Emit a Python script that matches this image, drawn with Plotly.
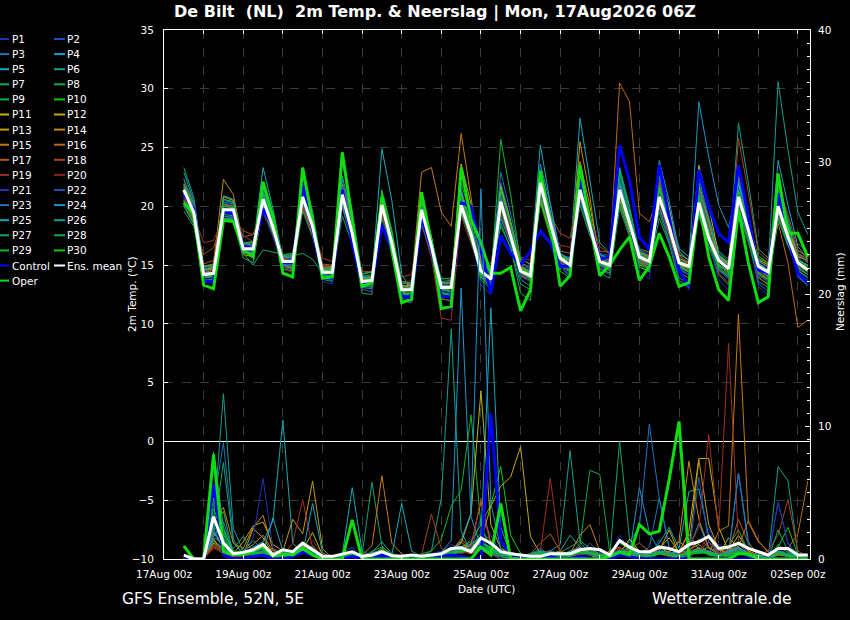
import pandas as pd
import plotly.graph_objects as go

# 6-hourly steps of the 06Z run, first step 17Aug 12z
times = pd.date_range("2026-08-17 12:00", periods=64, freq="6h")

# ---- 2m temperature (deg C) ----
t_mean = [21.4, 19.5, 14.2, 14.3, 19.7, 19.7, 16.4, 16.4, 20.6, 18.2, 15.3, 15.3, 20.8, 18.3, 14.4, 14.4,
          21.0, 17.7, 13.6, 13.7, 20.1, 16.9, 12.9, 12.9, 19.7, 16.6, 13.1, 13.1, 20.1, 17.6, 14.5, 13.8,
          20.4, 17.5, 14.5, 14.1, 22.0, 18.6, 15.6, 15.0, 21.4, 18.3, 15.3, 15.0, 21.4, 18.6, 15.7, 15.3,
          20.8, 18.3, 15.2, 14.9, 20.3, 17.3, 15.4, 14.7, 20.8, 18.0, 14.9, 14.4, 20.0, 17.4, 15.2, 14.6]
t_ctrl = [21.0, 19.8, 13.6, 13.6, 19.5, 19.4, 16.6, 16.4, 19.8, 18.3, 15.2, 15.2, 21.8, 18.1, 13.9, 13.9,
          21.4, 16.9, 13.5, 13.5, 18.4, 16.3, 12.3, 12.3, 19.1, 16.3, 12.3, 12.3, 20.3, 20.0, 16.3, 12.6,
          17.5, 16.0, 15.0, 16.2, 17.9, 16.9, 14.9, 14.9, 22.3, 18.6, 15.5, 15.7, 25.2, 22.2, 17.4, 16.3,
          23.5, 19.1, 14.6, 13.2, 23.1, 20.0, 17.7, 16.9, 23.5, 19.1, 14.6, 14.3, 21.1, 17.4, 14.3, 13.5]
t_oper = [20.3, 19.4, 13.3, 13.0, 18.8, 18.7, 16.3, 15.7, 22.1, 19.1, 14.3, 14.0, 23.3, 18.8, 13.9, 14.0,
          24.6, 19.1, 13.2, 13.5, 20.8, 16.3, 11.8, 12.1, 21.2, 16.9, 11.3, 11.5, 23.3, 18.9, 16.9, 14.3,
          14.3, 14.8, 11.1, 12.9, 23.0, 18.6, 13.2, 14.1, 23.5, 18.6, 14.1, 15.0, 16.3, 17.4, 13.7, 14.9,
          17.7, 15.7, 13.2, 13.5, 20.3, 15.7, 12.9, 12.0, 19.7, 15.2, 11.8, 12.3, 22.8, 17.7, 17.7, 15.7]

t_p01 = [21.0, 19.2, 13.9, 14.0, 19.9, 19.8, 16.8, 16.5, 20.2, 18.0, 15.1, 15.0, 21.3, 18.5, 14.2, 14.0,
         20.6, 17.4, 13.4, 13.8, 19.6, 16.5, 12.5, 12.4, 20.1, 16.9, 12.8, 12.6, 19.5, 17.0, 13.9, 13.2,
         21.2, 18.0, 14.0, 13.6, 21.5, 18.2, 15.2, 14.6, 20.8, 17.9, 14.8, 14.3, 22.6, 19.4, 15.9, 15.0,
         21.7, 18.7, 14.6, 14.1, 19.6, 16.8, 14.5, 13.9, 21.5, 18.3, 14.2, 13.8, 20.4, 17.1, 14.3, 13.6]
t_p02 = [20.6, 18.8, 14.5, 14.6, 20.3, 20.1, 16.1, 16.0, 21.4, 18.9, 14.8, 14.6, 20.2, 17.9, 14.9, 14.8,
         21.8, 18.2, 13.9, 13.5, 20.7, 17.3, 12.6, 12.2, 18.9, 16.2, 13.6, 13.4, 21.0, 18.4, 14.9, 14.3,
         19.6, 17.1, 14.9, 14.7, 22.8, 19.0, 15.0, 14.2, 20.5, 17.6, 16.0, 15.8, 20.9, 18.1, 15.1, 14.7,
         22.0, 19.2, 16.0, 15.4, 21.1, 18.0, 14.6, 13.8, 19.8, 17.2, 13.4, 12.8, 21.2, 18.5, 15.8, 15.3]
t_p03 = [22.0, 20.2, 14.0, 13.9, 19.2, 19.0, 16.0, 16.2, 21.0, 18.6, 15.6, 15.7, 20.3, 18.0, 13.9, 13.7,
         22.2, 18.6, 14.1, 14.0, 19.3, 16.2, 12.0, 11.8, 20.4, 17.2, 13.5, 13.2, 20.8, 17.9, 15.0, 14.6,
         22.0, 18.8, 15.3, 14.6, 21.2, 18.0, 14.8, 14.1, 22.9, 19.3, 15.6, 15.2, 20.3, 17.8, 16.2, 15.6,
         19.8, 17.2, 13.9, 13.5, 22.4, 19.1, 16.2, 15.5, 20.2, 17.5, 15.3, 14.9, 19.3, 16.7, 14.6, 13.9]
t_p04 = [21.8, 19.9, 14.6, 14.8, 20.6, 20.4, 16.6, 16.3, 19.9, 17.6, 15.0, 15.2, 21.6, 18.9, 14.6, 14.5,
         20.2, 17.1, 13.1, 13.0, 21.0, 17.5, 13.4, 13.5, 19.5, 16.4, 12.6, 12.4, 21.5, 18.0, 14.8, 13.5,
         19.0, 16.8, 14.2, 13.8, 23.1, 19.6, 16.0, 15.5, 21.0, 18.2, 15.0, 14.6, 21.8, 18.8, 15.4, 15.0,
         20.5, 18.0, 15.6, 15.2, 20.9, 17.9, 15.8, 15.0, 22.3, 19.3, 15.2, 14.6, 19.6, 17.0, 14.9, 14.2]
t_p05 = [21.2, 19.6, 14.3, 14.4, 19.5, 19.3, 16.3, 16.6, 23.3, 19.8, 15.5, 15.2, 20.6, 18.2, 14.7, 14.6,
         21.2, 17.9, 13.8, 13.9, 24.9, 20.5, 14.2, 12.9, 19.9, 16.9, 13.3, 13.0, 19.4, 17.3, 14.0, 13.1,
         20.9, 18.3, 15.2, 14.8, 25.2, 20.3, 15.9, 15.6, 27.5, 22.0, 16.9, 16.0, 21.1, 18.2, 15.8, 15.2,
         22.4, 19.8, 16.4, 15.7, 21.6, 18.6, 15.1, 14.5, 20.1, 17.5, 14.6, 14.1, 23.9, 20.1, 16.6, 15.5]
t_p06 = [23.3, 20.8, 14.9, 15.0, 18.8, 18.9, 16.9, 17.0, 19.5, 17.6, 15.8, 15.9, 21.0, 18.7, 15.0, 14.9,
         20.3, 17.2, 13.2, 13.4, 19.8, 16.7, 13.2, 13.3, 18.9, 16.0, 13.8, 13.9, 20.6, 17.9, 15.2, 14.9,
         19.3, 17.0, 13.8, 13.2, 21.4, 18.4, 15.8, 15.3, 20.2, 17.8, 15.9, 15.5, 22.3, 19.0, 15.0, 14.4,
         21.1, 18.6, 15.9, 15.5, 19.5, 16.9, 15.5, 15.1, 27.1, 22.0, 16.4, 15.6, 21.4, 18.6, 15.6, 14.9]
t_p07 = [20.2, 18.6, 14.0, 14.2, 19.0, 18.8, 15.6, 15.2, 20.0, 17.9, 14.4, 14.1, 22.5, 19.3, 13.8, 13.6,
         21.6, 18.1, 14.3, 14.4, 19.0, 16.0, 12.8, 12.6, 20.8, 17.4, 12.1, 12.0, 19.9, 17.5, 14.6, 14.0,
         18.6, 16.4, 13.4, 12.9, 22.6, 19.0, 15.3, 14.7, 21.9, 18.7, 14.3, 13.9, 19.9, 17.4, 15.8, 15.6,
         20.3, 17.8, 14.8, 14.4, 19.2, 16.6, 14.2, 13.3, 20.5, 17.8, 13.6, 13.1, 18.9, 16.6, 15.1, 14.9]
t_p08 = [21.9, 19.8, 14.7, 14.6, 20.1, 20.0, 16.2, 15.9, 21.8, 18.9, 15.8, 15.6, 19.8, 17.6, 14.2, 14.3,
         20.0, 17.0, 12.6, 12.5, 20.9, 17.5, 12.4, 12.7, 19.3, 16.3, 13.6, 13.7, 20.4, 17.8, 14.2, 13.9,
         20.0, 17.4, 14.9, 14.5, 21.0, 18.1, 15.5, 15.0, 22.5, 19.0, 15.1, 14.6, 21.2, 18.4, 16.4, 16.1,
         19.5, 17.0, 14.7, 14.2, 22.0, 18.7, 16.1, 15.3, 20.8, 18.1, 15.0, 14.4, 20.6, 17.8, 16.2, 15.8]
t_p09 = [20.8, 19.0, 13.6, 13.6, 19.8, 19.4, 16.4, 16.6, 20.9, 18.4, 15.2, 15.1, 20.0, 17.8, 14.0, 14.2,
         21.4, 18.0, 13.5, 13.2, 20.4, 17.1, 13.0, 13.1, 18.5, 15.8, 12.4, 12.2, 22.0, 19.1, 15.4, 14.1,
         20.2, 17.3, 14.6, 14.3, 21.8, 18.7, 15.9, 15.4, 20.1, 17.5, 15.6, 15.4, 23.1, 19.7, 15.6, 14.9,
         21.3, 18.5, 15.5, 15.0, 20.0, 17.4, 15.6, 15.0, 19.6, 16.9, 14.0, 13.3, 21.5, 18.9, 15.3, 14.6]
t_p10 = [21.6, 19.7, 14.1, 14.2, 19.4, 19.6, 16.7, 16.8, 20.4, 18.1, 15.9, 16.0, 21.1, 18.6, 14.5, 14.2,
         20.7, 17.5, 14.0, 14.2, 20.6, 17.3, 13.3, 13.0, 19.2, 16.5, 13.0, 12.8, 20.9, 18.2, 14.3, 13.2,
         21.5, 18.6, 14.3, 13.9, 20.7, 17.8, 14.9, 14.5, 21.6, 18.6, 15.8, 15.7, 20.6, 18.0, 14.8, 14.5,
         22.6, 19.7, 15.9, 15.5, 20.7, 17.6, 15.0, 14.2, 21.1, 18.3, 15.8, 15.2, 19.8, 17.1, 14.2, 13.7]
t_p11 = [22.3, 20.3, 14.6, 14.8, 19.6, 19.4, 16.1, 16.0, 20.7, 18.3, 15.4, 15.3, 20.4, 18.0, 14.3, 14.4,
         21.5, 18.3, 13.7, 13.8, 20.2, 17.0, 13.1, 13.4, 19.9, 16.8, 13.4, 13.5, 23.6, 20.2, 15.5, 14.4,
         21.7, 18.7, 14.8, 14.4, 20.5, 17.8, 15.7, 15.4, 21.2, 18.2, 15.2, 14.8, 21.7, 18.9, 16.0, 15.7,
         20.1, 17.6, 15.0, 14.7, 23.5, 20.0, 15.9, 15.1, 20.4, 17.9, 15.5, 15.0, 21.0, 18.3, 15.7, 15.4]
t_p12 = [21.3, 19.4, 14.4, 14.5, 20.0, 19.9, 16.5, 16.3, 21.1, 18.6, 14.9, 14.7, 20.7, 18.3, 14.8, 14.7,
         20.4, 17.4, 13.6, 13.7, 20.3, 17.2, 12.9, 12.8, 20.6, 17.4, 13.0, 13.0, 19.7, 17.4, 14.1, 13.5,
         20.7, 17.9, 15.5, 15.1, 22.3, 19.2, 15.8, 15.1, 21.7, 18.5, 15.4, 15.0, 20.5, 17.9, 15.5, 15.2,
         23.2, 20.0, 15.3, 14.6, 19.8, 16.9, 14.9, 14.5, 20.7, 18.0, 15.1, 14.6, 20.2, 17.6, 15.4, 15.0]
t_p13 = [20.5, 18.9, 14.2, 14.4, 20.8, 20.5, 15.9, 15.7, 19.7, 17.7, 15.1, 15.2, 21.7, 18.9, 14.1, 13.9,
         21.0, 17.8, 13.8, 14.0, 19.5, 16.4, 12.7, 12.5, 19.6, 16.5, 13.2, 13.3, 20.2, 17.8, 15.1, 14.5,
         19.8, 17.2, 14.4, 14.0, 21.7, 18.6, 15.4, 14.9, 23.8, 20.0, 15.7, 15.1, 22.0, 19.1, 15.3, 14.8,
         20.9, 18.4, 15.1, 14.7, 21.4, 18.5, 15.9, 15.0, 22.7, 19.4, 14.8, 14.2, 20.7, 18.0, 15.0, 14.4]
t_p14 = [21.0, 19.3, 14.9, 15.1, 22.3, 21.0, 16.8, 16.9, 20.3, 17.9, 15.6, 15.7, 20.1, 17.8, 14.6, 14.6,
         20.9, 17.7, 13.9, 14.0, 21.2, 17.8, 13.3, 13.1, 18.8, 15.9, 12.9, 13.0, 21.2, 18.4, 14.7, 14.0,
         20.5, 17.6, 14.1, 13.7, 22.1, 18.8, 15.2, 14.8, 25.5, 20.8, 15.0, 14.5, 21.5, 18.6, 16.1, 15.8,
         20.0, 17.5, 14.9, 14.5, 20.6, 17.7, 15.6, 15.3, 21.8, 18.9, 14.4, 13.7, 20.9, 18.2, 16.0, 15.5]
t_p15 = [21.7, 19.8, 14.6, 14.6, 19.8, 19.6, 16.4, 16.2, 20.8, 18.4, 15.0, 14.8, 20.9, 18.4, 14.8, 14.9,
         21.3, 18.0, 13.5, 13.4, 20.4, 17.4, 13.0, 13.6, 22.9, 23.3, 19.5, 18.3, 26.2, 20.9, 15.3, 14.6,
         21.4, 18.6, 14.9, 14.4, 20.9, 18.0, 15.0, 14.6, 21.0, 18.3, 15.5, 15.1, 21.9, 19.0, 15.9, 15.5,
         21.6, 18.8, 15.6, 15.1, 20.4, 17.5, 14.9, 14.4, 20.0, 17.6, 15.4, 15.1, 19.5, 17.1, 14.7, 14.2]
t_p16 = [20.9, 19.1, 14.0, 14.1, 20.2, 20.0, 16.0, 16.1, 20.5, 18.3, 15.5, 15.4, 19.9, 17.7, 14.4, 14.5,
         21.9, 18.5, 13.9, 13.7, 20.0, 16.8, 12.8, 12.9, 20.3, 17.1, 13.5, 13.6, 20.6, 18.0, 14.4, 13.8,
         20.8, 17.9, 14.7, 14.2, 23.0, 19.5, 15.6, 15.0, 21.3, 18.4, 15.7, 15.4, 30.5, 28.9, 19.4, 18.7,
         21.0, 18.5, 14.4, 13.9, 21.8, 18.8, 15.5, 15.0, 20.6, 17.8, 14.6, 14.0, 18.6, 15.2, 9.7, 10.3]
t_p17 = [21.5, 19.6, 15.1, 15.4, 19.3, 19.5, 17.4, 17.6, 19.8, 17.5, 14.9, 14.8, 21.4, 18.7, 15.1, 15.0,
         20.5, 17.3, 14.2, 14.5, 20.8, 17.6, 13.6, 13.3, 19.0, 16.2, 12.4, 12.3, 19.8, 17.4, 14.0, 13.4,
         19.9, 17.4, 14.6, 14.1, 21.3, 18.4, 16.2, 16.0, 20.6, 17.9, 16.2, 16.1, 21.0, 18.5, 15.4, 14.9,
         22.1, 19.4, 15.8, 15.2, 19.9, 17.1, 15.2, 14.9, 21.2, 18.5, 13.9, 13.4, 20.5, 17.8, 15.9, 15.2]
t_p18 = [20.4, 18.7, 15.9, 16.5, 18.9, 19.0, 17.9, 17.6, 20.1, 17.9, 15.8, 15.6, 20.5, 18.1, 15.6, 15.3,
         19.9, 17.0, 14.5, 14.4, 19.4, 16.6, 14.0, 14.2, 19.7, 16.9, 12.2, 11.9, 20.0, 17.6, 14.5, 13.9,
         20.1, 17.8, 15.7, 15.4, 22.4, 19.3, 17.7, 17.3, 21.8, 19.0, 16.6, 15.9, 20.8, 18.2, 15.2, 14.8,
         20.4, 17.8, 14.9, 14.4, 21.4, 18.4, 14.3, 13.5, 25.8, 21.2, 16.1, 15.4, 21.8, 19.3, 16.3, 15.6]
t_p19 = [21.1, 19.2, 16.9, 17.1, 19.0, 18.6, 17.5, 17.0, 19.6, 17.5, 15.6, 15.5, 20.0, 17.5, 14.0, 13.8,
         20.2, 17.0, 13.0, 12.7, 19.5, 16.3, 12.2, 11.9, 18.6, 15.6, 10.5, 10.3, 19.2, 16.8, 14.6, 15.2,
         19.4, 17.0, 15.0, 14.9, 21.0, 18.1, 16.7, 16.5, 20.9, 18.2, 14.9, 14.5, 21.1, 18.3, 15.1, 14.6,
         20.6, 18.1, 16.0, 15.5, 20.1, 17.2, 15.0, 14.3, 20.9, 18.3, 14.5, 13.9, 20.1, 17.7, 16.8, 16.2]
t_p20 = [20.7, 18.8, 14.3, 14.5, 19.3, 19.3, 16.2, 16.4, 20.6, 18.2, 14.6, 14.4, 20.6, 18.2, 14.9, 15.0,
         21.1, 17.8, 13.7, 13.6, 19.7, 16.8, 13.5, 13.7, 20.0, 16.8, 13.4, 13.4, 20.3, 17.9, 14.9, 14.3,
         21.0, 18.2, 14.2, 13.7, 21.6, 18.4, 15.1, 14.4, 22.0, 18.9, 15.6, 15.3, 20.2, 17.6, 16.3, 16.0,
         21.2, 18.6, 15.4, 15.0, 20.3, 17.4, 15.3, 14.8, 20.1, 17.5, 15.5, 15.3, 20.3, 17.9, 15.0, 14.6]
t_p21 = [22.4, 20.4, 14.5, 14.2, 20.5, 20.3, 16.3, 16.1, 19.5, 17.4, 14.9, 15.0, 20.9, 18.4, 13.6, 13.4,
         20.1, 16.9, 12.9, 12.8, 20.5, 17.1, 12.4, 12.0, 19.4, 16.4, 11.6, 11.2, 20.7, 17.7, 13.3, 12.5,
         20.1, 17.2, 14.0, 13.6, 21.9, 18.5, 14.8, 14.0, 20.4, 17.8, 14.6, 14.2, 21.3, 18.3, 14.5, 13.8,
         20.2, 17.4, 14.0, 12.9, 19.9, 16.9, 13.8, 12.8, 21.6, 18.6, 13.2, 12.4, 20.4, 17.5, 13.9, 13.4]
t_p22 = [21.0, 19.3, 13.8, 13.8, 19.6, 19.5, 16.6, 16.7, 21.6, 18.8, 15.4, 15.2, 20.3, 17.9, 14.3, 14.2,
         21.7, 18.3, 13.3, 13.1, 20.9, 17.4, 12.6, 12.4, 20.0, 16.8, 12.3, 12.3, 19.9, 17.5, 14.1, 13.5,
         20.8, 17.8, 14.7, 14.3, 22.5, 18.9, 15.3, 14.6, 21.1, 18.2, 15.0, 14.6, 21.6, 18.7, 15.7, 15.2,
         21.0, 18.4, 14.7, 14.2, 20.7, 17.7, 15.3, 14.4, 21.0, 18.4, 14.1, 13.7, 20.7, 17.7, 14.5, 13.9]
t_p23 = [20.1, 18.5, 14.4, 14.3, 20.4, 20.2, 16.9, 16.7, 21.3, 18.8, 15.4, 15.5, 20.8, 18.3, 14.1, 14.0,
         20.8, 17.6, 13.5, 13.7, 20.0, 16.8, 13.6, 13.5, 20.9, 17.3, 12.9, 12.7, 20.4, 17.9, 14.6, 14.0,
         22.9, 19.4, 15.6, 15.0, 21.1, 18.1, 15.1, 14.7, 21.6, 18.6, 15.3, 14.9, 22.2, 19.2, 16.3, 15.8,
         22.8, 19.5, 15.3, 14.7, 21.2, 18.1, 14.6, 14.0, 20.3, 17.6, 15.0, 14.6, 21.9, 18.9, 16.0, 15.3]
t_p24 = [21.5, 19.6, 14.8, 14.9, 19.1, 19.1, 16.2, 16.0, 20.8, 18.4, 15.0, 14.9, 21.5, 18.9, 14.7, 14.6,
         20.1, 17.1, 13.7, 13.9, 20.3, 17.2, 13.0, 13.0, 19.2, 16.3, 13.3, 13.2, 21.3, 18.5, 15.0, 14.4,
         20.6, 17.7, 14.5, 14.1, 23.6, 20.2, 16.0, 15.4, 21.5, 18.5, 15.9, 15.6, 21.9, 19.0, 15.5, 15.0,
         23.9, 20.5, 16.2, 15.3, 28.9, 24.2, 20.1, 18.2, 22.0, 19.1, 15.4, 14.8, 20.6, 18.0, 14.1, 13.2]
t_p25 = [21.2, 19.5, 13.9, 14.1, 20.9, 20.6, 16.4, 16.2, 20.1, 17.8, 15.7, 15.6, 21.9, 19.2, 14.5, 14.4,
         22.6, 18.9, 14.0, 13.8, 19.9, 16.8, 13.0, 13.1, 20.6, 17.4, 13.5, 13.4, 19.9, 17.4, 14.3, 13.8,
         20.0, 17.4, 14.7, 14.4, 22.8, 19.4, 15.5, 14.9, 21.0, 18.1, 15.1, 14.7, 23.3, 20.0, 16.0, 15.2,
         21.4, 18.7, 15.3, 14.9, 20.6, 17.5, 15.7, 15.0, 21.9, 18.8, 14.7, 14.0, 19.9, 17.2, 15.4, 15.0]
t_p26 = [22.9, 20.5, 14.9, 14.9, 19.8, 19.7, 16.5, 16.3, 21.2, 18.7, 15.7, 15.8, 22.7, 19.6, 14.6, 14.3,
         23.8, 19.6, 14.1, 13.8, 20.2, 17.0, 13.1, 12.9, 19.8, 16.7, 13.0, 12.8, 20.0, 17.7, 14.6, 14.1,
         21.3, 18.4, 14.4, 13.8, 22.2, 18.9, 15.7, 15.2, 21.7, 18.8, 15.6, 15.2, 21.2, 18.5, 16.0, 15.7,
         20.7, 18.1, 15.0, 14.5, 21.8, 18.9, 15.9, 15.2, 20.5, 17.8, 15.0, 14.6, 30.6, 24.8, 19.5, 17.6]
t_p27 = [19.6, 18.3, 14.6, 14.9, 19.0, 18.9, 16.0, 15.0, 16.3, 16.1, 15.9, 15.8, 16.0, 15.5, 14.3, 14.0,
         19.2, 16.8, 14.2, 14.4, 20.5, 17.3, 13.2, 13.0, 18.7, 16.0, 12.7, 12.5, 20.1, 17.5, 14.9, 14.6,
         18.3, 16.5, 12.6, 12.0, 21.2, 18.2, 15.0, 14.4, 20.7, 17.9, 15.4, 15.1, 20.1, 17.6, 15.0, 14.8,
         19.0, 16.8, 13.7, 13.1, 20.4, 17.3, 14.7, 14.0, 19.9, 17.2, 14.8, 14.5, 20.8, 18.1, 14.8, 14.2]
t_p28 = [20.0, 18.5, 13.7, 13.8, 20.0, 19.9, 16.8, 17.0, 20.9, 18.5, 14.7, 14.5, 19.6, 17.4, 14.4, 14.5,
         20.4, 17.2, 13.3, 13.1, 21.4, 18.0, 13.6, 13.5, 19.6, 16.6, 13.9, 13.8, 20.5, 18.0, 13.7, 13.0,
         19.8, 17.3, 14.3, 13.9, 21.4, 18.3, 15.9, 15.4, 22.2, 19.0, 14.7, 14.3, 20.7, 18.1, 15.9, 15.6,
         20.6, 18.2, 15.4, 15.0, 19.4, 16.6, 14.9, 14.6, 21.4, 18.6, 14.3, 13.5, 19.1, 16.8, 14.5, 14.0]
t_p29 = [21.9, 20.0, 14.2, 14.0, 19.3, 19.2, 16.6, 16.5, 19.9, 17.7, 15.3, 15.4, 20.6, 18.1, 14.7, 14.8,
         21.2, 17.8, 13.8, 13.6, 20.6, 17.2, 12.5, 12.6, 19.4, 16.4, 12.9, 12.8, 19.6, 17.1, 14.2, 13.7,
         25.7, 21.0, 15.1, 14.0, 20.4, 17.6, 15.5, 15.1, 21.2, 18.2, 15.2, 14.9, 22.8, 19.5, 15.2, 14.6,
         21.8, 19.0, 15.3, 14.8, 20.0, 17.2, 15.0, 14.4, 20.7, 18.0, 15.6, 15.2, 19.7, 17.3, 15.3, 14.9]
t_p30 = [20.5, 18.9, 14.1, 14.3, 20.6, 20.3, 16.3, 16.4, 20.3, 18.1, 15.2, 15.0, 20.8, 18.4, 14.5, 14.6,
         20.8, 17.6, 13.6, 13.9, 21.3, 17.8, 12.7, 12.3, 20.7, 17.2, 12.6, 12.4, 20.8, 18.1, 14.0, 13.1,
         21.5, 18.6, 14.7, 14.3, 20.3, 17.4, 14.5, 13.9, 22.7, 19.3, 15.4, 15.0, 21.0, 18.3, 15.6, 15.4,
         21.5, 18.9, 14.9, 14.4, 20.9, 17.9, 14.8, 14.1, 21.3, 18.6, 14.4, 13.8, 20.9, 18.4, 15.1, 14.4]

# ---- precipitation (mm / 6h) ----
r_mean = [0.3, 0, 0, 3.2, 1.2, 0.4, 0.5, 0.7, 1.1, 0.3, 0.7, 0.55, 1.2, 0.7, 0.2, 0.2,
          0.4, 0.55, 0.2, 0.3, 0.55, 0.25, 0.2, 0.3, 0.2, 0.3, 0.4, 0.8, 0.85, 0.55, 1.6, 1.2,
          0.55, 0.4, 0.3, 0.2, 0.2, 0.4, 0.4, 0.4, 0.7, 0.8, 0.7, 0.3, 1.4, 0.9, 0.55, 0.55,
          0.9, 0.8, 0.55, 1.1, 1.3, 1.7, 0.8, 0.9, 1.2, 0.8, 0.55, 0.3, 0.8, 0.8, 0.3, 0.3]
r_ctrl = [0, 0, 0, 5.7, 0.3, 0, 0, 0.2, 0.3, 0, 0, 0.2, 0.5, 0.3, 0, 0,
          0, 0.2, 0, 0, 0.3, 0, 0, 0, 0, 0, 0.2, 0.3, 0.2, 0, 0, 11.0,
          1.4, 0.3, 0.2, 0, 0, 0.2, 0, 0, 0.2, 0, 0, 0, 0.3, 0.2, 0, 0,
          0, 0, 0, 0, 0, 0, 0, 0, 0, 0, 0, 0, 0, 0, 0, 0]
r_oper = [1.0, 0, 0, 7.9, 0.55, 0.3, 0.4, 0.6, 0.9, 0.2, 0.4, 0.3, 0.8, 0.3, 0, 0,
          0, 2.95, 0, 0, 0, 0, 0, 0, 0, 0, 0, 0, 0, 0, 0.9, 0.3,
          4.2, 0, 0, 0, 0, 0, 0, 0, 0, 0, 0, 0.2, 0.5, 0.3, 2.6, 1.9,
          2.1, 6.0, 10.4, 0, 0, 0, 0, 0, 0.4, 0.4, 0, 0, 0, 0, 0, 0]

r_p01 = [0, 0, 0, 2.1, 0.6, 0.2, 0.4, 0.9, 1.2, 0.3, 0.2, 0.5, 0.8, 0.3, 0, 0,
         0.2, 0.6, 0, 0, 0.3, 0, 0, 0.2, 0, 0.4, 0.6, 1.1, 0.8, 1.5, 2.2, 0.9,
         0.3, 0, 0, 0.2, 0, 0.4, 0.6, 0.3, 1.0, 0.5, 0.2, 0, 1.8, 0.6, 0.2, 0.4,
         0.8, 0.3, 0, 0.6, 1.4, 2.3, 0.5, 0.2, 1.2, 0.4, 0.2, 0, 0.9, 0.5, 0, 0.2]
r_p02 = [0, 0, 0, 3.4, 1.0, 0, 0.3, 0.5, 0.6, 0.2, 0.5, 0.3, 1.1, 0.4, 0, 0,
         0.4, 0.9, 0, 0, 0.6, 0.2, 0, 0, 0.3, 0.2, 0.4, 0.6, 1.0, 0.7, 3.1, 1.8,
         0.5, 0.2, 0, 0, 0.3, 0.6, 0.2, 0, 0.4, 1.2, 0.5, 0.2, 0.7, 0.3, 0, 0,
         1.5, 0.6, 0.2, 0.3, 0.8, 0.4, 1.1, 0.6, 0.4, 0.2, 0, 0, 4.3, 1.2, 0.3, 0]
r_p03 = [0, 0, 0, 4.1, 8.8, 1.5, 0.3, 0.2, 0.5, 0.2, 0, 0.6, 0.9, 0.3, 0, 0,
         0, 0.4, 0, 0.2, 0.5, 0, 0, 0, 0.2, 0.4, 0.3, 0.2, 0.6, 1.2, 1.6, 0.7,
         0.2, 0, 0, 0.4, 0.8, 0.3, 0, 0, 0.6, 0.9, 0.3, 0, 0.5, 1.3, 2.4, 10.2,
         4.6, 0.8, 0.3, 0.2, 0.6, 0.9, 0.4, 0.3, 0.7, 0.2, 0, 0, 0.5, 0.3, 0, 0]
r_p04 = [0, 0, 0, 1.6, 1.2, 0.5, 0.2, 0.6, 0.4, 0.8, 0.3, 0.2, 0.6, 0.2, 0, 0,
         0.3, 0.2, 0, 0, 0.4, 0, 0, 0, 0, 0.2, 0.5, 1.4, 20.5, 3.2, 0.9, 0.4,
         0, 0, 0.2, 0, 0.3, 0.5, 0.2, 0.3, 0.7, 0.4, 0, 0.2, 0.6, 0.4, 5.4, 2.0,
         0.6, 0.3, 0, 0.8, 2.7, 0.9, 0.3, 0.2, 6.5, 1.3, 0.2, 0, 0.4, 0.2, 0, 0]
r_p05 = [0, 0, 0, 8.1, 2.4, 0.4, 0.2, 0.9, 1.3, 2.9, 10.5, 1.2, 0.4, 0.6, 0.2, 0,
         0.3, 5.4, 0.6, 0.2, 0.4, 0.2, 0.3, 0, 0, 0.3, 0.2, 0.6, 0.9, 1.1, 1.7, 19.0,
         2.4, 0.3, 0, 0.2, 0.5, 0.4, 0.6, 1.8, 0.9, 0.3, 0.2, 0, 0.4, 0.8, 0.6, 0.3,
         1.2, 2.4, 0.8, 5.1, 5.3, 1.7, 0.4, 0.2, 0.5, 0.3, 0, 0, 0.6, 0.2, 0.4, 0]
r_p06 = [0, 0, 0, 2.7, 12.5, 2.3, 0.6, 0.3, 0.5, 0.2, 0.3, 0.4, 0.6, 1.0, 0.2, 0,
         0, 0.3, 0.2, 0.5, 1.3, 0.4, 0, 0, 0.2, 0.6, 4.6, 17.4, 2.1, 0.5, 0.8, 0.4,
         0.2, 0, 0, 0.3, 0.2, 0.6, 1.1, 8.2, 1.3, 0.4, 0, 0.2, 0.5, 0.3, 0.2, 0.6,
         0.8, 0.2, 0, 0.3, 0.9, 0.4, 0.2, 0.6, 1.1, 0.5, 0.3, 0, 7.0, 5.9, 0.4, 0.2]
r_p07 = [0, 0, 0, 1.9, 7.3, 1.2, 0.4, 0.6, 0.3, 0.8, 0.4, 0.2, 0.5, 0.3, 0, 0.2,
         0, 0.5, 0.3, 5.8, 1.0, 0.2, 0, 0, 0.3, 0.4, 0.2, 0.7, 0.5, 0.6, 1.2, 0.6,
         0.5, 0.2, 0, 0, 0.4, 0.3, 0.5, 0.9, 1.4, 0.8, 0.3, 0.2, 8.9, 1.5, 0.3, 0,
         0.4, 0.2, 0, 0.5, 0.7, 0.3, 0.2, 0.4, 0.8, 0.3, 0, 0.2, 0.5, 0.3, 0, 0]
r_p08 = [0, 0, 0, 2.4, 3.6, 0.3, 0.8, 0.2, 0.4, 0.3, 0.2, 0.6, 1.0, 0.4, 0.2, 0,
         0.2, 0.3, 0, 0.2, 0.6, 0.3, 0, 0, 0, 0.2, 0.5, 0.9, 0.4, 0.8, 2.0, 1.4,
         0.6, 0.3, 0.2, 0.4, 0.6, 0.5, 0.2, 0.4, 1.1, 6.7, 6.4, 0.5, 0.3, 0.4, 0.6, 0.2,
         0.5, 0.3, 0.2, 0.4, 0.6, 0.9, 0.3, 0.5, 0.7, 0.2, 0, 0, 0.4, 0.3, 0.2, 0]
r_p09 = [0, 0, 0, 3.0, 1.6, 0.4, 0.2, 0.5, 0.6, 0.3, 0.2, 0.4, 0.8, 0.5, 0, 0,
         0.3, 0.6, 0.2, 0.3, 0.5, 0.2, 0.2, 0, 0.4, 0.6, 1.5, 4.0, 5.2, 10.9, 2.5, 0.8,
         0.4, 0.2, 0, 0.2, 0.3, 0.6, 0.4, 0.3, 0.5, 0.3, 0.2, 0.6, 1.2, 0.7, 0.3, 0.2,
         0.6, 0.4, 0.2, 0.3, 0.5, 0.4, 0.3, 1.0, 2.2, 0.6, 0.2, 0, 1.1, 0.5, 0.2, 0]
r_p10 = [0, 0, 0, 4.6, 2.2, 0.6, 0.4, 0.3, 0.2, 0.5, 0.3, 0.2, 0.6, 0.4, 0, 0,
         0.2, 0.4, 0, 0.3, 0.8, 0.2, 0, 0, 0.2, 0.3, 0.4, 0.5, 0.9, 1.3, 2.6, 4.1,
         7.0, 1.8, 0.4, 0, 0.2, 0.3, 0.5, 0.3, 0.6, 0.4, 0.2, 0.3, 0.8, 0.5, 0.2, 0.6,
         1.0, 0.3, 0.2, 0.5, 0.4, 0.6, 0.3, 0.2, 0.5, 0.3, 0.2, 0, 0.9, 2.4, 0.3, 0.1]
r_p11 = [0, 0, 0, 1.2, 0.8, 0.3, 0.2, 0.6, 0.4, 0.3, 0.2, 0.5, 0.7, 2.0, 0.3, 0,
         0.2, 0.3, 0, 0, 0.4, 0.2, 0, 0, 0.3, 0.2, 0.3, 0.6, 1.2, 3.4, 12.7, 2.6,
         0.8, 0.5, 0.3, 0.2, 0.6, 0.4, 0.3, 0.2, 0.5, 0.3, 0, 0.2, 0.4, 1.5, 0.6, 0.3,
         0.8, 1.6, 0.5, 2.1, 7.6, 7.6, 2.4, 0.6, 1.8, 0.6, 0.3, 0, 0.4, 0.2, 0, 0]
r_p12 = [0, 0, 0, 2.0, 0.9, 0.4, 0.3, 2.3, 1.6, 0.4, 0.3, 0.2, 1.0, 0.6, 0.2, 0,
         0.3, 0.2, 0, 0.4, 0.7, 0.3, 0, 0, 0.2, 0.3, 0.2, 0.4, 0.6, 0.9, 1.4, 4.0,
         5.5, 6.2, 8.5, 1.7, 0.4, 0.2, 0.6, 0.3, 0.8, 0.4, 0.2, 0, 0.5, 0.9, 0.3, 0.4,
         0.6, 2.2, 0.4, 0.7, 1.1, 0.5, 0.3, 1.6, 0.9, 0.4, 0.2, 0.3, 0.6, 0.2, 0, 0]
r_p13 = [0, 0, 0, 1.5, 0.6, 0.4, 1.3, 2.5, 2.8, 1.1, 0.6, 3.0, 1.9, 5.9, 0.8, 0,
         0.2, 0.5, 0.2, 0, 0.3, 0.4, 0, 0, 0, 0.2, 0.3, 0.5, 0.8, 1.0, 4.4, 1.2,
         0.6, 0.3, 0, 0, 0.2, 0.5, 0.4, 0.2, 0.6, 0.3, 0.2, 0.5, 1.3, 0.8, 0.3, 0.2,
         0.4, 0.6, 1.3, 0.8, 7.5, 2.6, 0.8, 0.4, 0.6, 0.3, 0, 0.2, 0.5, 0.3, 0.2, 0]
r_p14 = [0, 0, 0, 2.8, 3.9, 1.2, 0.8, 2.4, 3.3, 0.7, 0.4, 0.3, 0.8, 0.4, 0.2, 0,
         0.3, 0.2, 0, 0.2, 0.5, 0.3, 0, 0, 0.2, 0.3, 0.2, 0.4, 1.3, 0.6, 1.1, 0.5,
         0.3, 0.2, 0, 0.2, 0.6, 0.3, 0.2, 0.4, 1.8, 2.6, 0.6, 0.3, 0.5, 0.4, 0.2, 0.6,
         0.9, 0.5, 1.4, 7.4, 3.0, 0.8, 0.6, 0.9, 0.4, 0.3, 0.2, 0, 0.3, 0.2, 0, 0]
r_p15 = [0, 0, 0, 1.4, 0.7, 0.3, 0.6, 1.1, 1.8, 0.6, 0.4, 0.3, 0.6, 0.9, 0.2, 0,
         0.2, 0.4, 0.3, 1.0, 6.3, 1.2, 0.4, 0, 0, 0.2, 0.4, 0.3, 0.6, 0.4, 0.8, 0.6,
         0.3, 0.2, 0, 0.3, 0.5, 0.6, 0.3, 0.2, 0.4, 0.3, 0.2, 0.6, 0.9, 0.4, 0.3, 0.5,
         1.0, 0.4, 0.6, 1.9, 0.7, 0.4, 2.1, 2.5, 18.5, 2.8, 1.3, 0.6, 0.5, 0.3, 0.2, 0]
r_p16 = [0, 0, 0, 1.1, 0.5, 0.2, 0.4, 0.8, 1.0, 0.4, 0.2, 0.3, 0.5, 0.6, 0.3, 0,
         0.2, 0.3, 0, 0.2, 0.4, 0.3, 0, 0, 0.2, 0.3, 0.4, 0.6, 1.5, 0.8, 0.7, 0.3,
         0.2, 0, 0, 0.2, 0.4, 0.3, 0.2, 0.6, 0.9, 0.5, 0.2, 0.3, 0.8, 0.6, 0.3, 0.2,
         0.5, 0.4, 0.3, 0.6, 0.8, 0.5, 0.4, 0.7, 0.9, 2.9, 1.4, 0.5, 0.3, 0.8, 1.9, 5.9]
r_p17 = [0, 0, 0, 0.9, 0.4, 0.2, 0.3, 0.6, 0.8, 0.3, 0.2, 0.4, 0.6, 0.3, 0, 0,
         0.2, 0.4, 0.2, 0.3, 0.5, 0.2, 0, 0, 0, 0.2, 0.3, 0.5, 0.8, 0.6, 1.0, 0.5,
         0.3, 0.2, 0, 0.4, 1.2, 1.9, 0.6, 0.3, 0.5, 0.7, 0.3, 0.2, 0.4, 0.8, 1.2, 0.6,
         0.4, 0.2, 0.3, 0.6, 1.5, 0.9, 0.4, 0.6, 3.0, 1.2, 0.4, 0.2, 0.6, 0.3, 0, 0]
r_p18 = [0, 0, 0, 1.3, 0.5, 0.3, 0.2, 0.4, 0.6, 0.3, 0.2, 0.5, 0.7, 0.4, 0, 0,
         0.3, 0.2, 0.2, 0.4, 0.6, 0.3, 0.2, 0, 0.3, 3.4, 0.8, 0.5, 0.6, 0.4, 0.7, 0.3,
         0.2, 0, 0.2, 0.3, 0.5, 0.6, 0.3, 0.2, 0.4, 0.3, 0.2, 0.4, 0.6, 0.5, 0.3, 0.2,
         0.5, 0.3, 0.2, 0.4, 0.6, 1.3, 0.5, 0.4, 0.7, 0.5, 0.3, 0.6, 1.8, 4.5, 0.6, 0.2]
r_p19 = [0, 0, 0, 1.0, 0.4, 0.2, 0.3, 0.5, 0.8, 0.6, 0.3, 1.2, 4.5, 0.8, 0.2, 0,
         0.2, 0.3, 0, 0.2, 0.4, 0.2, 0, 0, 0.2, 0.3, 0.2, 0.4, 0.6, 0.8, 4.6, 0.9,
         0.4, 0.2, 0, 0.3, 0.6, 6.1, 0.5, 0.2, 0.4, 0.3, 0.2, 0.5, 0.7, 0.4, 0.3, 0.2,
         0.6, 0.4, 0.3, 0.9, 2.4, 9.4, 2.0, 16.3, 1.4, 0.5, 0.3, 0.2, 0.5, 0.3, 0.2, 0]
r_p20 = [0, 0, 0, 0.8, 0.5, 0.3, 0.2, 0.4, 0.6, 0.2, 0.4, 0.3, 0.5, 1.4, 0.3, 0,
         0.2, 0.3, 0, 0.3, 0.4, 0.2, 0, 0, 0.2, 0.3, 0.2, 0.5, 0.4, 0.6, 0.8, 0.5,
         0.3, 0.2, 0, 0.2, 0.4, 0.5, 0.3, 0.2, 0.6, 0.4, 0.2, 0.3, 0.8, 0.6, 0.3, 0.4,
         0.5, 0.2, 0.4, 0.7, 0.6, 1.8, 0.5, 0.3, 0.8, 0.4, 0.2, 0, 0.5, 0.3, 0.2, 0]
r_p21 = [0, 0, 0, 2.2, 0.9, 0.3, 0.5, 1.6, 6.1, 0.8, 0.3, 0.2, 0.6, 0.4, 0, 0,
         0.2, 0.3, 0, 0.2, 0.4, 0.2, 0, 0, 0, 0.2, 0.3, 0.5, 0.7, 0.9, 1.3, 0.6,
         0.3, 0.2, 0, 0.2, 0.4, 0.3, 0.2, 0.3, 0.5, 0.3, 0.2, 0.4, 0.6, 0.5, 0.2, 0.3,
         0.4, 0.3, 0.2, 0.5, 0.6, 0.4, 0.3, 0.2, 0.5, 0.3, 0.2, 0, 4.3, 1.1, 0.3, 0]
r_p22 = [0, 0, 0, 1.8, 1.4, 0.5, 0.3, 0.6, 0.5, 0.3, 0.2, 0.4, 0.7, 0.3, 0.2, 0,
         0.3, 0.2, 0, 0.3, 0.5, 0.2, 0.3, 0, 0.2, 0.3, 0.2, 0.6, 0.8, 0.7, 1.1, 0.4,
         0.2, 0, 0, 0.3, 0.5, 0.4, 0.2, 0.2, 0.6, 0.3, 0.2, 0.3, 0.7, 0.4, 0.3, 0.2,
         0.5, 0.4, 0.2, 0.3, 6.2, 1.2, 0.4, 0.3, 0.6, 0.4, 0.2, 0, 0.8, 0.3, 0.2, 0]
r_p23 = [0, 0, 0, 2.6, 1.1, 0.4, 0.2, 0.5, 0.8, 0.3, 0.2, 0.3, 0.6, 0.5, 0, 0,
         0.2, 0.3, 0.2, 0.2, 0.4, 0.3, 0, 0, 0.3, 0.2, 0.4, 0.5, 0.6, 0.8, 1.0, 0.5,
         0.3, 0.2, 0, 0.2, 0.4, 0.6, 0.3, 0.4, 0.5, 0.4, 0.2, 0.3, 0.6, 0.8, 0.4, 0.9,
         4.6, 0.9, 0.3, 0.4, 0.6, 0.5, 0.3, 0.4, 6.5, 1.0, 0.3, 0.2, 0.4, 0.3, 0, 0]
r_p24 = [0, 0, 0, 1.7, 2.8, 0.6, 0.3, 0.4, 0.6, 0.4, 0.2, 0.3, 0.5, 0.4, 0, 0,
         0.2, 0.4, 0.3, 0.2, 0.5, 0.3, 0, 0, 0.2, 0.3, 0.4, 0.6, 1.4, 3.5, 28.0, 4.2,
         0.8, 0.3, 0, 0.2, 0.6, 0.4, 0.3, 0.5, 0.7, 0.4, 0.2, 0.3, 0.5, 0.6, 0.4, 0.3,
         0.6, 0.5, 0.3, 0.4, 0.8, 0.6, 0.3, 0.5, 0.9, 0.4, 0.2, 0, 0.6, 0.3, 0.2, 0]
r_p25 = [0, 0, 0, 3.2, 1.9, 0.5, 0.4, 0.3, 0.5, 3.1, 0.6, 0.3, 0.4, 4.2, 0.5, 0,
         0.2, 0.3, 0.2, 0.5, 0.6, 0.3, 4.2, 0.6, 0.2, 0.3, 0.4, 0.5, 0.8, 0.6, 1.3, 0.7,
         0.4, 0.2, 0, 0.3, 0.5, 0.4, 0.3, 0.6, 0.8, 0.5, 0.3, 0.2, 0.4, 0.3, 0.6, 0.4,
         0.5, 0.3, 0.2, 0.5, 0.7, 0.4, 0.3, 0.6, 0.8, 0.4, 0.3, 0, 0.5, 0.2, 0.3, 0]
r_p26 = [0, 0, 0, 2.3, 0.8, 0.4, 0.6, 1.4, 0.7, 0.3, 0.2, 0.4, 0.6, 0.3, 0, 0,
         0.3, 0.4, 0.2, 0.3, 0.5, 0.4, 0.2, 0, 0, 0.2, 0.3, 0.4, 0.6, 0.8, 1.2, 0.9,
         0.5, 0.3, 0.2, 0.4, 0.6, 0.3, 0.4, 0.5, 0.4, 0.6, 0.3, 0.2, 0.5, 0.4, 0.3, 0.2,
         0.4, 0.3, 0.2, 0.6, 0.5, 0.4, 0.3, 0.5, 0.7, 0.3, 0.2, 0.3, 0.6, 0.4, 0.2, 0]
r_p27 = [0, 0, 0, 1.4, 0.6, 0.8, 1.7, 0.5, 0.4, 0.3, 0.2, 0.5, 0.8, 0.6, 0.2, 0,
         0.2, 0.3, 0, 0.6, 0.9, 0.4, 0, 0, 0.2, 0.3, 0.4, 0.6, 0.5, 0.7, 1.0, 0.6,
         0.3, 0.2, 0, 0.2, 0.4, 0.5, 0.3, 0.2, 0.6, 0.8, 0.4, 0.3, 0.6, 0.5, 0.3, 0.2,
         0.4, 0.3, 0.6, 0.5, 0.7, 0.3, 0.2, 0.4, 0.6, 0.3, 0.2, 0, 2.2, 0.6, 0.2, 0]
r_p28 = [0, 0, 0, 2.9, 1.3, 0.4, 0.3, 0.4, 0.6, 0.4, 0.2, 0.3, 0.5, 0.4, 0, 0,
         0.2, 0.4, 0.3, 0.2, 0.6, 0.3, 0.2, 0, 0.3, 0.2, 0.5, 0.4, 0.7, 0.6, 0.9, 0.5,
         0.2, 0, 0.2, 0.3, 0.5, 0.4, 0.3, 0.2, 0.5, 0.4, 0.3, 0.2, 0.6, 0.4, 0.3, 0.2,
         0.5, 0.4, 0.3, 0.4, 0.6, 0.5, 0.3, 0.4, 0.5, 0.3, 0.2, 0, 0.4, 0.2, 0, 0]
r_p29 = [0, 0, 0, 3.8, 2.0, 0.6, 0.4, 0.3, 0.5, 0.4, 0.2, 0.3, 0.6, 0.5, 0, 0,
         0.2, 0.3, 0.2, 0.3, 0.5, 0.2, 0, 0, 0.2, 0.3, 0.4, 0.5, 0.6, 0.8, 1.4, 0.6,
         0.3, 0.2, 0, 0.2, 0.3, 0.4, 0.3, 0.4, 0.6, 0.5, 0.3, 0.2, 0.4, 0.3, 0.2, 0.3,
         0.5, 0.3, 0.2, 0.4, 0.6, 0.5, 0.3, 0.2, 0.6, 0.3, 0.2, 0, 0.5, 0.3, 0.2, 0]
r_p30 = [0, 0, 0, 5.2, 1.6, 0.4, 0.3, 0.5, 0.4, 0.3, 0.2, 0.4, 0.6, 0.3, 0, 0,
         0.2, 0.4, 0.2, 0.3, 0.6, 0.3, 0, 0, 0.2, 0.3, 0.3, 0.4, 0.6, 0.7, 1.3, 0.8,
         0.5, 0.3, 0, 0.2, 0.4, 0.3, 0.2, 0.3, 0.5, 0.4, 0.2, 0.3, 0.6, 0.5, 0.3, 0.2,
         0.4, 0.3, 0.2, 0.5, 0.6, 0.4, 0.2, 0.3, 0.5, 0.3, 0.2, 0, 0.4, 0.3, 0, 0]

temps = [t_p01, t_p02, t_p03, t_p04, t_p05, t_p06, t_p07, t_p08, t_p09, t_p10,
         t_p11, t_p12, t_p13, t_p14, t_p15, t_p16, t_p17, t_p18, t_p19, t_p20,
         t_p21, t_p22, t_p23, t_p24, t_p25, t_p26, t_p27, t_p28, t_p29, t_p30]
rains = [r_p01, r_p02, r_p03, r_p04, r_p05, r_p06, r_p07, r_p08, r_p09, r_p10,
         r_p11, r_p12, r_p13, r_p14, r_p15, r_p16, r_p17, r_p18, r_p19, r_p20,
         r_p21, r_p22, r_p23, r_p24, r_p25, r_p26, r_p27, r_p28, r_p29, r_p30]
names = ["P%d" % k for k in range(1, 31)]

# member colours, P21..P30 reuse P1..P10
pal = ['#2032b0', '#1c52c0', '#1f74bf', '#1c96c8', '#16aab8', '#14a08a', '#14a46a', '#12a84c',
       '#10b62c', '#10c810', '#b8b810', '#c0a810', '#c49a10', '#c48a10', '#c47a12', '#bc6a14',
       '#b45818', '#aa4418', '#a03020', '#902020']
colors = pal + pal[:10]
CTRL = '#0000ff'
OPER = '#10dd10'
FONT = "DejaVu Sans"

fig = go.Figure()
for name, t, c in zip(names, temps, colors):
    fig.add_trace(go.Scatter(x=times, y=t, mode='lines', name=name,
                             line=dict(color=c, width=1), showlegend=False))
fig.add_trace(go.Scatter(x=times, y=t_ctrl, mode='lines', line=dict(color=CTRL, width=3), showlegend=False))
fig.add_trace(go.Scatter(x=times, y=t_oper, mode='lines', line=dict(color=OPER, width=3), showlegend=False))
fig.add_trace(go.Scatter(x=times, y=t_mean, mode='lines', line=dict(color='white', width=3), showlegend=False))

for name, r, c in zip(names, rains, colors):
    fig.add_trace(go.Scatter(x=times, y=r, mode='lines', yaxis='y2',
                             line=dict(color=c, width=1), showlegend=False))
fig.add_trace(go.Scatter(x=times, y=r_ctrl, mode='lines', yaxis='y2', line=dict(color=CTRL, width=3), showlegend=False))
fig.add_trace(go.Scatter(x=times, y=r_oper, mode='lines', yaxis='y2', line=dict(color=OPER, width=3), showlegend=False))
fig.add_trace(go.Scatter(x=times, y=r_mean, mode='lines', yaxis='y2', line=dict(color='white', width=3), showlegend=False))

# plot area in pixels
L, R, T, B = 164, 810, 30, 559


def px(x):
    return (x - L) / (R - L)


def py(y):
    return (B - y) / (B - T)


grid = '#3a3a3a'
fig.update_layout(
    width=850, height=620, autosize=False,
    margin=dict(l=L, r=850 - R, t=T, b=620 - B),
    paper_bgcolor='black', plot_bgcolor='black',
    font=dict(family=FONT, size=10.5, color='white'),
    xaxis=dict(type='date', range=['2026-08-17 00:00', '2026-09-02 07:20'],
               tick0='2026-08-17', dtick=2 * 86400000, tickformat='%d%b %Hz',
               ticks='inside', ticklen=4, tickcolor='white',
               showline=True, linecolor='white', linewidth=1, mirror='allticks',
               showgrid=True, gridcolor=grid, griddash='dash', gridwidth=1,
               minor=dict(dtick=86400000, showgrid=True, gridcolor=grid, griddash='dash',
                          ticks='inside', ticklen=4, tickcolor='white'),
               tickfont=dict(size=10.5, color='white'), zeroline=False, ticklabelstandoff=5),
    yaxis=dict(range=[-10, 35], dtick=5, ticks='inside', ticklen=4, tickcolor='white',
               showline=True, linecolor='white', linewidth=1,
               showgrid=True, gridcolor=grid, griddash='dash',
               zeroline=True, zerolinecolor='white', zerolinewidth=1.2,
               tickfont=dict(size=10.5, color='white'), ticklabelstandoff=7),
    yaxis2=dict(range=[0, 40], dtick=10, overlaying='y', side='right',
                ticks='inside', ticklen=5, tickcolor='white',
                showline=True, linecolor='white', linewidth=1,
                showgrid=False, zeroline=False,
                minor=dict(dtick=1, ticks='inside', ticklen=3, tickcolor='white'),
                tickfont=dict(size=10.5, color='white'), ticklabelstandoff=5),
)

nb = '\u00a0'
ann = [
    dict(text='<b>De Bilt' + nb * 2 + '(NL)' + nb * 2 + '2m Temp. &amp; Neerslag | Mon, 17Aug2026 06Z</b>',
         x=px(435), y=py(12), font=dict(size=16)),
    dict(text='2m Temp. (°C)', x=px(132), y=py(294), textangle=-90),
    dict(text='Neerslag (mm)', x=px(840), y=py(292), textangle=-90),
    dict(text='Date (UTC)', x=px(486), y=py(589)),
    dict(text='GFS Ensemble, 52N, 5E', x=px(120), y=py(599), xanchor='left', font=dict(size=15.5)),
    dict(text='Wetterzentrale.de', x=px(794), y=py(599), xanchor='right', font=dict(size=15.5)),
]

# legend, two columns down the left edge
left_col = [(names[k], colors[k]) for k in range(0, 30, 2)] + [('Control', CTRL), ('Oper', OPER)]
right_col = [(names[k], colors[k]) for k in range(1, 30, 2)] + [('Ens. mean', 'white')]
shapes = []
for col, (x0, x1) in zip([left_col, right_col], [(0, 9), (54, 65)]):
    for row, (label, c) in enumerate(col):
        yy = 39 + 15.1 * row
        shapes.append(dict(type='line', xref='paper', yref='paper', x0=px(x0), x1=px(x1),
                           y0=py(yy), y1=py(yy), line=dict(color=c, width=2)))
        ann.append(dict(text=label, x=px(x1 + 0.5), y=py(yy), xanchor='left'))

for a in ann:
    a.setdefault('xanchor', 'center')
    a.update(xref='paper', yref='paper', showarrow=False, yanchor='middle')
fig.update_layout(annotations=ann, shapes=shapes)

# page has a default 8px white body margin; drop it so the figure sits at 0,0
fig.write_html("out.html", config={'displayModeBar': False},
               post_script="document.body.style.margin='0';document.body.style.background='black';")
